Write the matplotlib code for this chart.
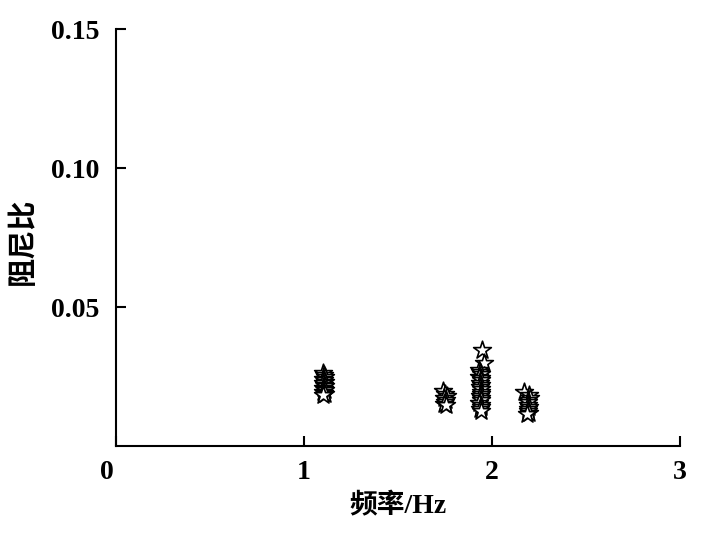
import matplotlib
matplotlib.use("Agg")
import matplotlib.pyplot as plt
import matplotlib.transforms as mtransforms

plt.rcParams['font.family'] = ['Liberation Serif', 'Noto Sans CJK SC']
plt.rcParams['font.weight'] = 'bold'

# frequency (Hz) and damping ratio
freq = [1.10, 1.105, 1.11, 1.10, 1.105, 1.11, 1.10, 1.105, 1.11, 1.10, 1.105,
        1.11, 1.10, 1.105, 1.11, 1.10,
        1.74, 1.75, 1.76, 1.745, 1.755, 1.75, 1.745, 1.755,
        1.95, 1.96, 1.93, 1.935, 1.94, 1.93, 1.94, 1.945, 1.935, 1.94, 1.935,
        1.94, 1.945, 1.94, 1.935, 1.94, 1.945, 1.93, 1.94, 1.945, 1.935, 1.94,
        2.17, 2.20, 2.205, 2.19, 2.195, 2.19, 2.20, 2.195, 2.19, 2.20, 2.185]
damping = [0.0262, 0.0255, 0.0248, 0.0242, 0.0236, 0.0230, 0.0225, 0.0220, 0.0215, 0.0210, 0.0205,
           0.0200, 0.0196, 0.0192, 0.0188, 0.0184,
           0.0197, 0.0188, 0.0180, 0.0173, 0.0165, 0.0158, 0.0152, 0.0146,
           0.0345, 0.0300, 0.0272, 0.0265, 0.0258, 0.0250, 0.0243, 0.0236, 0.0228, 0.0220, 0.0212,
           0.0204, 0.0196, 0.0188, 0.0180, 0.0172, 0.0164, 0.0156, 0.0148, 0.0140, 0.0133, 0.0127,
           0.0196, 0.0184, 0.0174, 0.0165, 0.0157, 0.0149, 0.0141, 0.0133, 0.0126, 0.0120, 0.0115]

xticks = [0, 1, 2, 3]
yticks = [0.05, 0.10, 0.15]
ytick_labels = ['0.05', '0.10', '0.15']

fig = plt.figure(figsize=(7.14, 5.41), dpi=100)
ax = fig.add_axes([0.1625, 0.1756, 0.7895, 0.7705])

ax.scatter(freq, damping, marker='*', s=180, facecolors='white',
           edgecolors='black', linewidths=1.2, zorder=3)

ax.set_xlim(0, 3)
ax.set_ylim(0, 0.15)
ax.set_xticks(xticks)
ax.set_xticklabels([str(t) for t in xticks])
ax.set_yticks(yticks)
ax.set_yticklabels(ytick_labels)

for side in ['top', 'right']:
    ax.spines[side].set_visible(False)
for side in ['left', 'bottom']:
    ax.spines[side].set_linewidth(1.5)

ax.tick_params(direction='in', length=7, width=1.5, labelsize=20)
ax.tick_params(axis='x', pad=10)
ax.tick_params(axis='y', pad=12)

# the "0" on the x axis sits a little left of the spine
zero_label = ax.get_xticklabels()[0]
zero_label.set_transform(zero_label.get_transform() +
                         mtransforms.ScaledTranslation(-0.09, 0, fig.dpi_scale_trans))

ax.set_xlabel('频率/Hz', fontsize=20, fontweight='bold', labelpad=6)
ax.set_ylabel('阻尼比', fontsize=21, fontweight='bold', labelpad=8)
ax.yaxis.set_label_coords(-0.14, 0.49)

fig.savefig('out.png', dpi=100)
